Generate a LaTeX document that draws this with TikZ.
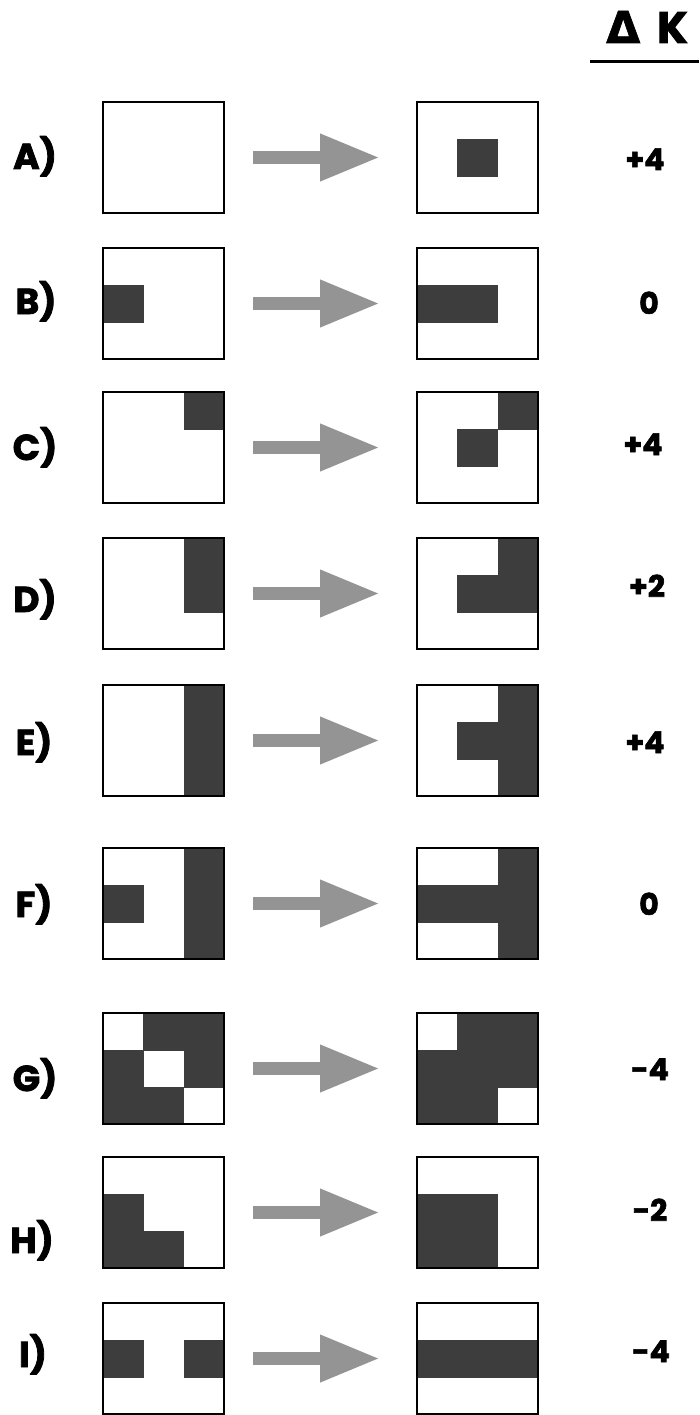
\documentclass[tikz,border=0pt]{standalone}
\usepackage{fontspec}
\setmainfont{Poppins}[BoldFeatures={FakeBold=2.2}]
\newfontfamily\dvfont{DejaVu Sans}[BoldFeatures={FakeBold=1.5}]
\usetikzlibrary{arrows.meta,backgrounds,calc}
\tikzset{
  gridbox/.style={draw=black, line width=2.5pt, minimum width=121pt, minimum height=111pt, inner sep=0pt, outer sep=0pt},
  shadefill/.style={fill=black!76},
  fatarrow/.style={draw=black!42, line width=13pt, -{Triangle[length=60pt,width=44pt]}, shorten <=29pt, shorten >=37pt},
  rowlabel/.style={anchor=base, font=\fontsize{36}{36}\selectfont\bfseries, inner sep=0pt},
  dkval/.style={anchor=base, font=\fontsize{30}{30}\selectfont\bfseries, inner sep=0pt},
  header/.style={anchor=base west, font=\fontsize{44}{44}\selectfont\bfseries, inner sep=0pt},
}
\newcommand\shadecells[2]{%
  \begin{pgfonlayer}{background}
    \foreach \c/\r in {#2}{\fill[shadefill] ($(#1.north west)+(\c*40.33,\r*37)$) rectangle ++(40.9,37.6);}
  \end{pgfonlayer}}
\begin{document}
\begin{tikzpicture}[x=1pt,y=-1pt]
\useasboundingbox (0,0) rectangle (699,1415);
% header
\node[header] (hdelta) at (606,43) {\dvfont\bfseries Δ};
\node[header] (hk) at (657,43) {K};
\coordinate (ulA) at (590,61.5);
\coordinate (ulB) at (699,61.5);
\draw[line width=3.5pt] (ulA) -- (ulB);
% A
\node[gridbox] (LA) at (163.5,157.5) {};
\node[gridbox] (RA) at (477.5,157.5) {};
\shadecells{RA}{1/1}
\draw[fatarrow] (LA) -- (RA);
\node[rowlabel] (lA) at (35,169) {A)};
\node[dkval] (vA) at (645,170) {+4};
% B
\node[gridbox] (LB) at (163.5,303.5) {};
\node[gridbox] (RB) at (477.5,303.5) {};
\shadecells{LB}{0/1}
\shadecells{RB}{0/1,1/1}
\draw[fatarrow] (LB) -- (RB);
\node[rowlabel] (lB) at (36,314) {B)};
\node[dkval] (vB) at (649,314) {0};
% C
\node[gridbox] (LC) at (163.5,447.5) {};
\node[gridbox] (RC) at (477.5,447.5) {};
\shadecells{LC}{2/0}
\shadecells{RC}{2/0,1/1}
\draw[fatarrow] (LC) -- (RC);
\node[rowlabel] (lC) at (35,460) {C)};
\node[dkval] (vC) at (643,455) {+4};
% D
\node[gridbox] (LD) at (163.5,593.5) {};
\node[gridbox] (RD) at (477.5,593.5) {};
\shadecells{LD}{2/0,2/1}
\shadecells{RD}{2/0,1/1,2/1}
\draw[fatarrow] (LD) -- (RD);
\node[rowlabel] (lD) at (35,612) {D)};
\node[dkval] (vD) at (647,597) {+2};
% E
\node[gridbox] (LE) at (163.5,740.5) {};
\node[gridbox] (RE) at (477.5,740.5) {};
\shadecells{LE}{2/0,2/1,2/2}
\shadecells{RE}{2/0,1/1,2/1,2/2}
\draw[fatarrow] (LE) -- (RE);
\node[rowlabel] (lE) at (34,755) {E)};
\node[dkval] (vE) at (645,753) {+4};
% F
\node[gridbox] (LF) at (163.5,903.5) {};
\node[gridbox] (RF) at (477.5,903.5) {};
\shadecells{LF}{0/1,2/0,2/1,2/2}
\shadecells{RF}{0/1,1/1,2/0,2/1,2/2}
\draw[fatarrow] (LF) -- (RF);
\node[rowlabel] (lF) at (34,917) {F)};
\node[dkval] (vF) at (649,915) {0};
% G
\node[gridbox] (LG) at (163.5,1068.5) {};
\node[gridbox] (RG) at (477.5,1068.5) {};
\shadecells{LG}{1/0,2/0,0/1,2/1,0/2,1/2}
\shadecells{RG}{1/0,2/0,0/1,1/1,2/1,0/2,1/2}
\draw[fatarrow] (LG) -- (RG);
\node[rowlabel] (lG) at (35,1091) {G)};
\node[dkval] (vG) at (650,1080) {-4};
% H
\node[gridbox] (LH) at (163.5,1212.5) {};
\node[gridbox] (RH) at (477.5,1212.5) {};
\shadecells{LH}{0/1,0/2,1/2}
\shadecells{RH}{0/1,1/1,0/2,1/2}
\draw[fatarrow] (LH) -- (RH);
\node[rowlabel] (lH) at (32,1253) {H)};
\node[dkval] (vH) at (650,1221) {-2};
% I
\node[gridbox] (LI) at (163.5,1358.5) {};
\node[gridbox] (RI) at (477.5,1358.5) {};
\shadecells{LI}{0/1,2/1}
\shadecells{RI}{0/1,1/1,2/1}
\draw[fatarrow] (LI) -- (RI);
\node[rowlabel] (lI) at (33,1367) {I)};
\node[dkval] (vI) at (651,1362) {-4};
\end{tikzpicture}
\end{document}
